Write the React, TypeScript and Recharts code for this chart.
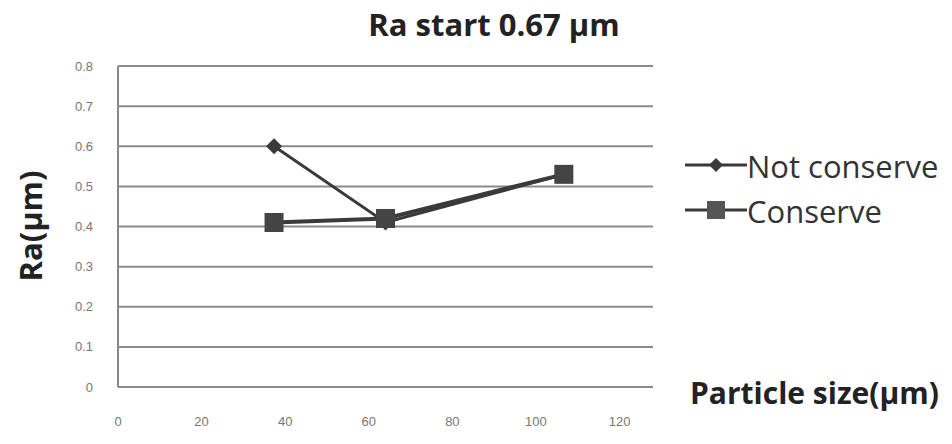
import { CartesianGrid, Line, LineChart, XAxis, YAxis } from 'recharts';

const particleSizes = [35, 60, 100];
const notConserve = [0.6, 0.41, 0.53];
const conserve = [0.41, 0.42, 0.53];
const xTicks = [0, 20, 40, 60, 80, 100, 120];
const yTicks = [0, 0.1, 0.2, 0.3, 0.4, 0.5, 0.6, 0.7, 0.8];

const data = particleSizes.map((size, i) => ({
  size,
  notConserve: notConserve[i],
  conserve: conserve[i],
}));

const LINE = '#3a3a3a';
const TITLE_FONT = '"Open Sans", sans-serif';
const TICK_FONT = '"Liberation Sans", Arial, sans-serif';

const Diamond = (props: any) => {
  const { cx, cy } = props;
  if (cx == null || cy == null) return null;
  const r = 8;
  return (
    <polygon
      points={`${cx},${cy - r} ${cx + r},${cy} ${cx},${cy + r} ${cx - r},${cy}`}
      fill={LINE}
    />
  );
};

const Square = (props: any) => {
  const { cx, cy } = props;
  if (cx == null || cy == null) return null;
  const s = 19;
  return <rect x={cx - s / 2} y={cy - s / 2} width={s} height={s} fill="#444" />;
};

const legendRows = [
  { label: 'Not conserve', marker: 'diamond' },
  { label: 'Conserve', marker: 'square' },
];

const ChartLegend = () => (
  <div style={{ position: 'absolute', left: 685, top: 143 }}>
    {legendRows.map((row) => (
      <div
        key={row.label}
        style={{ display: 'flex', alignItems: 'center', height: 45, fontFamily: TITLE_FONT, fontSize: 31, color: '#333', whiteSpace: 'nowrap' }}
      >
        <svg width={62} height={30} style={{ flex: 'none' }}>
          <line x1={0} y1={14} x2={62} y2={14} stroke={LINE} strokeWidth={3} />
          {row.marker === 'diamond' ? (
            <polygon points="31,7 38,14 31,21 24,14" fill={LINE} />
          ) : (
            <rect x={22} y={5} width={18} height={18} fill="#555" />
          )}
        </svg>
        <span>{row.label}</span>
      </div>
    ))}
  </div>
);

const labelStyle = {
  position: 'absolute' as const,
  fontFamily: TITLE_FONT,
  fontWeight: 700,
  lineHeight: 1,
  color: '#222',
  whiteSpace: 'nowrap' as const,
};

export default function App() {
  return (
    <div style={{ position: 'absolute', left: 0, top: 0, width: 952, height: 444, background: '#fff' }}>
      <div style={{ ...labelStyle, left: 494, top: 9, fontSize: 31, transform: 'translateX(-50%)' }}>
        Ra start 0.67 μm
      </div>
      <div
        style={{
          ...labelStyle,
          left: 30,
          top: 226,
          fontSize: 31,
          transform: 'translate(-50%, -50%) rotate(-90deg)',
        }}
      >
        Ra(μm)
      </div>
      <div style={{ ...labelStyle, left: 690, top: 378, fontSize: 30 }}>Particle size(μm)</div>
      <LineChart width={952} height={444} data={data} margin={{ top: 66, right: 299, bottom: 0, left: 0 }}>
        <CartesianGrid xAxisId="main" vertical={false} stroke="#8a8a8a" strokeWidth={2} />
        <XAxis xAxisId="main" dataKey="size" type="number" domain={[0, 120]} hide />
        <XAxis
          xAxisId="labels"
          dataKey="size"
          type="number"
          domain={[0, 128]}
          ticks={xTicks}
          height={57}
          tickSize={0}
          tickMargin={30}
          tickLine={false}
          axisLine={{ stroke: '#8a8a8a', strokeWidth: 2 }}
          tick={{ fill: '#777', fontSize: 13, fontFamily: TICK_FONT }}
        />
        <YAxis
          width={118}
          domain={[0, 0.8]}
          ticks={yTicks}
          tickSize={0}
          tickMargin={25}
          tickLine={false}
          axisLine={{ stroke: '#8a8a8a', strokeWidth: 2 }}
          tick={{ fill: '#777', fontSize: 13, fontFamily: TICK_FONT }}
        />
        <Line
          xAxisId="main"
          dataKey="notConserve"
          stroke={LINE}
          strokeWidth={3}
          dot={<Diamond />}
          isAnimationActive={false}
        />
        <Line
          xAxisId="main"
          dataKey="conserve"
          stroke={LINE}
          strokeWidth={4}
          dot={<Square />}
          isAnimationActive={false}
        />
      </LineChart>
      <ChartLegend />
    </div>
  );
}
